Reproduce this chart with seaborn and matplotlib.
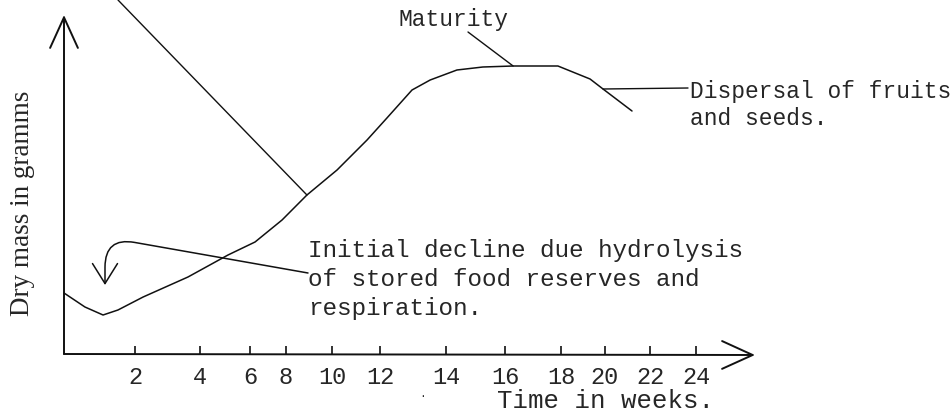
import matplotlib
matplotlib.use("Agg")
import matplotlib.pyplot as plt
import numpy as np
import seaborn as sns

sns.set_style("white")
plt.rcParams["font.family"] = ["Liberation Mono", "DejaVu Sans"]

# dry mass curve
weeks = [0, 0.59, 1.10, 1.52, 2.25, 3.63, 5.12, 6.28, 7.78, 8.91, 10.21, 11.46,
         12.21, 12.97, 13.52, 14.37, 15.25, 16.29, 17.89, 19.32, 19.91, 21.2]
dry_mass = [6.1, 4.7, 3.9, 4.4, 5.7, 7.7, 9.9, 11.2, 13.4, 15.9, 18.4, 21.4,
            23.6, 26.4, 27.4, 28.4, 28.7, 28.8, 28.8, 27.5, 26.5, 24.3]
tick_weeks = [2, 4, 6, 8, 10, 12, 14, 16, 18, 20, 22, 24]
tick_labels = [str(w) for w in tick_weeks]

# the hand drawn time axis is not evenly spaced: pixel of each week mark
axis_weeks = [-10, 0] + tick_weeks + [60]
axis_px = [-291, 64, 135, 200, 250, 286, 332, 380, 446, 505, 561, 605, 650, 696, 1524]

W, H = 952, 413


def forward(w):
    return np.interp(w, axis_weeks, axis_px)


def inverse(p):
    return np.interp(p, axis_px, axis_weeks)


def fpx(px, py):
    # image pixel -> figure fraction
    return (px / W, 1 - py / H)


fig = plt.figure(figsize=(W / 100, H / 100), dpi=100)
ax = fig.add_axes([0, 0, 1, 1])

sns.lineplot(x=weeks, y=dry_mass, ax=ax, color="#111111", lw=1.1, sort=False)

ax.set_xscale("function", functions=(forward, inverse))
ax.set_xlim(inverse(0), inverse(W))
ax.set_ylim((354 - H) / 10, 354 / 10)

for s in ax.spines.values():
    s.set_visible(False)
ax.spines["bottom"].set_position(("data", 0))
ax.set_xticks(tick_weeks)
ax.set_xticklabels(tick_labels, fontsize=17)
ax.tick_params(axis="x", bottom=True, direction="in", length=6, width=1.2,
               color="#111111", pad=9)
ax.set_yticks([])
ax.set_xlabel("")
ax.set_ylabel("")

# axes with open arrow heads
axis_arrow = dict(arrowstyle="->,head_length=1.1,head_width=0.5", lw=1.4,
                  color="#111111", shrinkA=0, shrinkB=0, mutation_scale=20)
ax.annotate("", xy=(0, (354 - 15) / 10), xytext=(0, 0), arrowprops=axis_arrow)
ax.annotate("", xy=(inverse(755), -0.1), xytext=(0, 0), arrowprops=axis_arrow)

leader = dict(arrowstyle="-", lw=1.0, color="#111111", shrinkA=0, shrinkB=0)

# long unlabeled leader from top
ax.annotate("", xy=(weeks[9], dry_mass[9]), xytext=fpx(118, 0),
            textcoords="figure fraction", arrowprops=leader)

# Maturity
ax.annotate("", xy=(weeks[17], dry_mass[17]), xytext=fpx(468, 32),
            textcoords="figure fraction", arrowprops=leader)
fig.text(*fpx(398, 26), "Maturity", fontsize=16.5, va="baseline", ha="left")

# Dispersal
ax.annotate("", xy=(weeks[20], dry_mass[20]), xytext=fpx(688, 88),
            textcoords="figure fraction", arrowprops=leader)
fig.text(*fpx(690, 98), "Dispersal of fruits", fontsize=16.5, va="baseline", ha="left")
fig.text(*fpx(690, 125), "and seeds.", fontsize=16.5, va="baseline", ha="left")

# Initial decline
ax.annotate("", xy=fpx(105, 285), xycoords="figure fraction",
            xytext=fpx(308, 273), textcoords="figure fraction",
            arrowprops=dict(arrowstyle="->,head_length=1.2,head_width=0.75", lw=1.1,
                            color="#111111", shrinkA=0, shrinkB=0, mutation_scale=12,
                            connectionstyle="angle,angleA=170,angleB=90,rad=30"))
for i, line in enumerate(["Initial decline due hydrolysis",
                          "of stored food reserves and",
                          "respiration."]):
    fig.text(*fpx(308, 257 + 29 * i), line, fontsize=17.5, va="baseline", ha="left")

fig.text(*fpx(497, 408), "Time in weeks.", fontsize=18.5, va="baseline", ha="left")
fig.text(*fpx(23, 203), "Dry mass in gramms", fontsize=19.5, rotation=90,
         va="center", ha="center", family=["Liberation Serif", "DejaVu Serif"])
fig.text(*fpx(423, 394), ".", fontsize=8, ha="center", va="center")

fig.savefig("out.png", dpi=100)
